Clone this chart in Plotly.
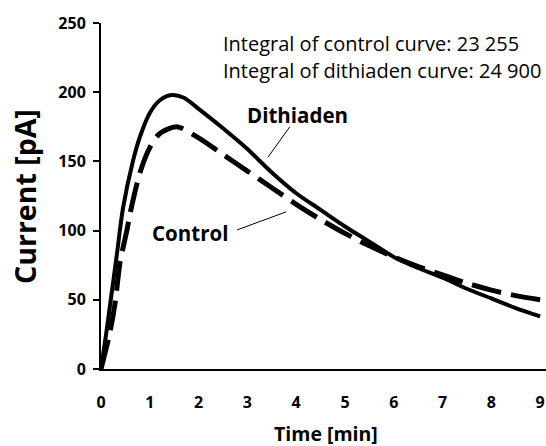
import plotly.graph_objects as go

# Data
time_dith = [0, 0.1, 0.2, 0.33, 0.45, 0.66, 0.8, 1.0, 1.2, 1.45, 1.7, 2.0, 2.5, 3.0, 3.5, 4.0, 4.5, 5.0, 5.5, 6.0, 6.5, 7.0, 7.5, 8.0, 8.5, 9.0]
dithiaden = [0, 24, 50, 84, 116, 151, 168, 185, 194, 198, 196, 188, 174, 159, 142, 127, 115, 103, 92, 81, 73, 66, 58, 51, 44, 38]

time_ctrl = [0, 0.18, 0.29, 0.39, 0.53, 0.6, 0.8, 1.0, 1.2, 1.55, 2.0, 2.5, 3.0, 3.5, 4.0, 4.5, 5.0, 5.5, 6.0, 6.5, 7.0, 7.5, 8.0, 8.5, 9.0]
control = [0, 26, 48, 77, 100, 113, 142, 160, 170, 175, 167, 155, 143, 131, 119, 108, 98, 89, 81, 74, 68, 62, 57, 53, 50]

x_ticks = [0, 1, 2, 3, 4, 5, 6, 7, 8, 9]
y_ticks = [0, 50, 100, 150, 200, 250]

FONT = "Open Sans"

fig = go.Figure()
fig.add_trace(go.Scatter(x=time_dith, y=dithiaden, mode="lines",
                         line=dict(color="black", width=4, shape="spline", smoothing=0.8),
                         name="Dithiaden", showlegend=False, hoverinfo="skip", cliponaxis=False))
fig.add_trace(go.Scatter(x=time_ctrl, y=control, mode="lines",
                         line=dict(color="black", width=5, dash="30px,10px", shape="spline", smoothing=0.8),
                         name="Control", showlegend=False, hoverinfo="skip", cliponaxis=False))

# leader lines
fig.add_shape(type="line", x0=3.87, y0=175, x1=3.42, y1=153, line=dict(color="black", width=1))
fig.add_shape(type="line", x0=2.79, y0=100.5, x1=3.79, y1=113.5, line=dict(color="black", width=1))

fig.add_annotation(x=4.02, y=183.5, text="<b>Dithiaden</b>", showarrow=False,
                   font=dict(family=FONT, size=20.5, color="black"))
fig.add_annotation(x=1.82, y=98.3, text="<b>Control</b>", showarrow=False,
                   font=dict(family=FONT, size=20.5, color="black"))
fig.add_annotation(x=2.46, y=235.5, text="Integral of control curve: 23 255", showarrow=False,
                   xanchor="left", yanchor="middle", font=dict(family=FONT, size=20, color="black"))
fig.add_annotation(x=2.46, y=216, text="Integral of dithiaden curve: 24 900", showarrow=False,
                   xanchor="left", yanchor="middle", font=dict(family=FONT, size=20, color="black"))

# axis titles
fig.add_annotation(xref="paper", yref="paper", x=-0.171, y=0.5, xanchor="center", yanchor="middle",
                   text="<b>Current [pA]</b>", showarrow=False, textangle=-90,
                   font=dict(family=FONT, size=28.5, color="black"))
fig.add_annotation(xref="paper", yref="paper", x=0.506, y=-0.186, xanchor="center", yanchor="middle",
                   text="<b>Time [min]</b>", showarrow=False,
                   font=dict(family=FONT, size=19.5, color="black"))

fig.update_layout(
    width=546, height=446,
    margin=dict(l=101, r=0, t=23, b=77),
    paper_bgcolor="white", plot_bgcolor="white",
    font=dict(family=FONT, color="black"),
    xaxis=dict(range=[0, 9.12], tickvals=x_ticks, ticktext=[str(v) for v in x_ticks],
               showgrid=False, zeroline=False, showline=True, linecolor="black", linewidth=2,
               ticks="", ticklabelstandoff=18, automargin=False,
               tickfont=dict(family=FONT, size=16, weight="bold")),
    yaxis=dict(range=[0, 250], tickvals=y_ticks, ticktext=[str(v) for v in y_ticks],
               showgrid=False, zeroline=False, showline=True, linecolor="black", linewidth=2,
               ticks="outside", ticklen=6, tickwidth=2, tickcolor="black", ticklabelstandoff=4,
               automargin=False,
               tickfont=dict(family=FONT, size=16, weight="bold")),
)

# remove the default 8px page margin so the figure fills the window exactly
fig.write_html("out.html", config={"displayModeBar": False},
               post_script="document.body.style.margin='0';document.body.style.overflow='hidden';")
